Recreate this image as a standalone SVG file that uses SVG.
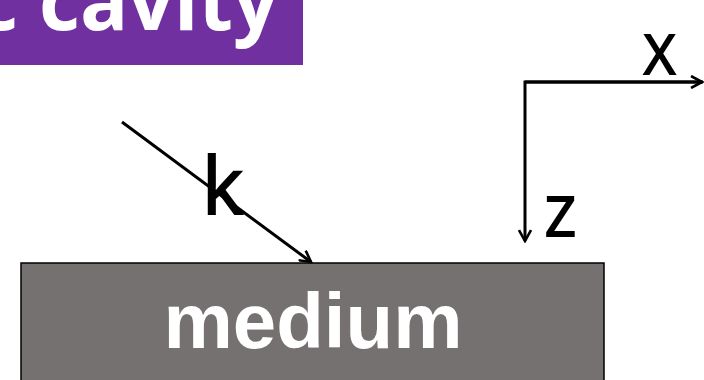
<svg xmlns="http://www.w3.org/2000/svg" width="704" height="380" viewBox="0 0 704 380">
<style>
.conn{stroke:#000;stroke-width:3;fill:none}
.lbl{font-family:"Open Sans","Liberation Sans",sans-serif;fill:#000;stroke:#000;stroke-width:1.8}
</style>
<defs>
<marker id="open" viewBox="0 0 14 14" refX="12" refY="7" markerWidth="14" markerHeight="14" markerUnits="userSpaceOnUse" orient="auto">
<path d="M1,1 L12,7 L1,13" fill="none" stroke="#000" stroke-width="2.6"/>
</marker>
</defs>
<rect width="704" height="380" fill="#fff"/>
<g id="title">
<rect x="0" y="0" width="303" height="65" fill="#7030A0"/>
<text x="-23" y="30" font-family="Open Sans, sans-serif" font-weight="bold" font-size="80" fill="#fff">c cavity</text>
</g>
<g id="medium">
<rect x="21" y="263" width="583" height="130" fill="#757170" stroke="#000" stroke-width="1.5"/>
<text x="313" y="348" text-anchor="middle" font-family="Liberation Sans, Arial, sans-serif" font-weight="bold" font-size="78" fill="#fff">medium</text>
</g>
<g id="connectors">
<line class="conn" x1="122" y1="122" x2="311" y2="262" marker-end="url(#open)"/>
<path class="conn" d="M703,82 H525 V241" marker-end="url(#open)"/>
<line class="conn" x1="525" y1="82" x2="702" y2="82" marker-end="url(#open)"/>
</g>
<g id="labels">
<text class="lbl" x="202" y="214" font-size="78">k</text>
<text class="lbl" x="644" y="74" font-size="54">X</text>
<text class="lbl" x="545" y="236" font-size="54">Z</text>
</g>
</svg>
